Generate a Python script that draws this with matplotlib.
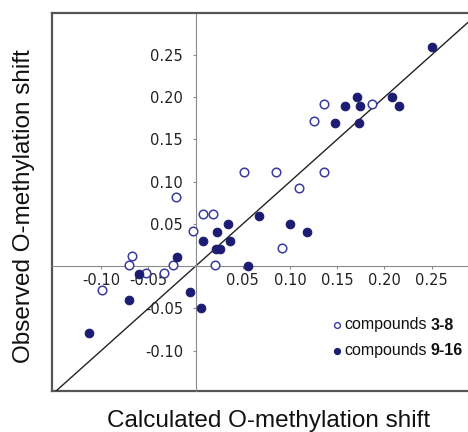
import matplotlib
matplotlib.use("Agg")
import matplotlib.pyplot as plt

# ---- data ----
open_x = [0.136, 0.187, 0.126, 0.051, 0.085, 0.136, 0.110, -0.021, 0.0075, 0.018,
          -0.003, 0.092, -0.067, -0.070, -0.0525, -0.0335, -0.024, 0.021, -0.099]
open_y = [0.192, 0.192, 0.172, 0.112, 0.112, 0.112, 0.092, 0.082, 0.062, 0.062,
          0.042, 0.022, 0.012, 0.002, -0.008, -0.008, 0.002, 0.002, -0.028]

fill_x = [0.250, 0.171, 0.158, 0.174, 0.148, 0.173, 0.208, 0.215,
          0.067, 0.034, 0.100, 0.023, 0.118, 0.0075, 0.036, 0.022, 0.026,
          -0.020, 0.0555, -0.060, -0.070, -0.0056, 0.0057, -0.113]
fill_y = [0.260, 0.200, 0.190, 0.190, 0.170, 0.170, 0.200, 0.190,
          0.060, 0.050, 0.050, 0.040, 0.040, 0.030, 0.030, 0.020, 0.020,
          0.0105, 0.000, -0.009, -0.040, -0.030, -0.050, -0.079]

x_ticks = [-0.10, -0.05, 0.05, 0.10, 0.15, 0.20, 0.25]
x_ticklabels = ["-0.10", "-0.05", "0.05", "0.10", "0.15", "0.20", "0.25"]
y_ticks = [-0.10, -0.05, 0.05, 0.10, 0.15, 0.20, 0.25]
y_ticklabels = ["-0.10", "-0.05", "0.05", "0.10", "0.15", "0.20", "0.25"]

legend_plain = ["compounds", "compounds"]
legend_bold = ["3-8", "9-16"]
x_label = "Calculated O-methylation shift"
y_label = "Observed O-methylation shift"

OPEN_C = "#3b3b9e"
FILL_C = "#1c1c73"

W, H = 468, 432
fig = plt.figure(figsize=(W / 100, H / 100), dpi=100)
ax = fig.add_axes([52 / W, (H - 391) / H, (W - 52) / W, (391 - 13) / H])
ax.set_xlim(-0.152, 0.2886)
ax.set_ylim(-0.1477, 0.2997)

# zero axes
for s in ["left", "bottom"]:
    ax.spines[s].set_position(("data", 0))
    ax.spines[s].set_color("#8a8a8a")
    ax.spines[s].set_linewidth(0.8)
ax.spines["right"].set_visible(False)
ax.spines["top"].set_color("#555555")
ax.spines["top"].set_linewidth(1.6)
# outer frame left and bottom
ax.plot([0, 0], [0, 1], transform=ax.transAxes, color="#555555", lw=1.6,
        clip_on=False, solid_capstyle="projecting")
ax.plot([0, 1], [0, 0], transform=ax.transAxes, color="#555555", lw=1.6,
        clip_on=False, solid_capstyle="projecting")

ax.set_xticks(x_ticks)
ax.set_xticklabels(x_ticklabels)
ax.set_yticks(y_ticks)
ax.set_yticklabels(y_ticklabels)
ax.tick_params(axis="both", direction="out", length=2.5, width=0.8,
               color="#8a8a8a", labelsize=10.5, labelcolor="#222222")
ax.tick_params(axis="y", pad=6.5)
ax.tick_params(axis="x", pad=2.5)
for lab in ax.get_xticklabels() + ax.get_yticklabels():
    lab.set_fontfamily("DejaVu Sans")

# y = x line
ax.plot([-0.2, 0.35], [-0.2, 0.35], color="#222222", lw=1.0, zorder=2)

ax.scatter(open_x, open_y, s=38, facecolors="white", edgecolors=OPEN_C,
           linewidths=1.1, zorder=3)
ax.scatter(fill_x, fill_y, s=38, facecolors=FILL_C, edgecolors=FILL_C,
           linewidths=0.8, zorder=3)

# manual legend
fig.canvas.draw()
rend = fig.canvas.get_renderer()
rows_y = [1 - 329.5 / H, 1 - 355 / H]
mk_x = 337 / W
tx_x = 344 / W
for i in range(2):
    cy = rows_y[i] + 4.5 / H
    if i == 0:
        fig.lines.append(plt.Line2D([mk_x], [cy], transform=fig.transFigure,
                                    marker="o", ms=4.2, mfc="white", mec=OPEN_C,
                                    mew=1.0, ls="none"))
    else:
        fig.lines.append(plt.Line2D([mk_x], [cy], transform=fig.transFigure,
                                    marker="o", ms=4.2, mfc=FILL_C, mec=FILL_C,
                                    ls="none"))
    t1 = fig.text(tx_x, rows_y[i], legend_plain[i], fontsize=11.5,
                  family="Liberation Sans", color="#111111", va="baseline", ha="left")
    bb = t1.get_window_extent(renderer=rend)
    fig.text((bb.x1 + 4) / W, rows_y[i], legend_bold[i], fontsize=11.5, weight="bold",
             family="Liberation Sans", color="#111111", va="baseline", ha="left")

fig.text(269 / W, 1 - 427 / H, x_label, fontsize=17.5, family="Liberation Sans",
         color="#111111", ha="center", va="baseline")
fig.text(24.5 / W, 1 - 206 / H, y_label, fontsize=17.5, family="Liberation Sans",
         color="#111111", ha="center", va="center", rotation=90)

fig.savefig("out.png", dpi=100)
